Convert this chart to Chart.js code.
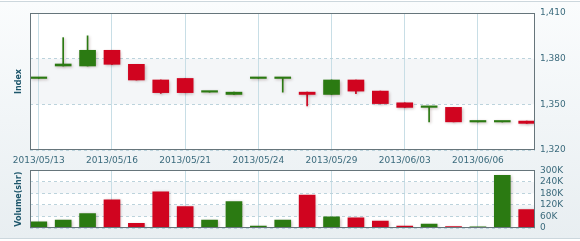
<!DOCTYPE html>
<html>
<head>
<meta charset="utf-8">
<script src="https://cdn.jsdelivr.net/npm/chart.js@4"></script>
<style>
html, body { margin: 0; padding: 0; }
body { width: 580px; height: 241px; overflow: hidden; background: #fff; position: relative; }
#panel { position: absolute; left: 0; top: 1px; width: 580px; height: 238px; box-sizing: border-box;
  border-top: 1px solid #ccd7dd; border-bottom: 1px solid #ccd7dd;
  background: linear-gradient(#fafcfd, #e8eef1); }
#priceChart { position: absolute; left: 0; top: 0; }
#volChart { position: absolute; left: 0; top: 160px; }
</style>
</head>
<body>
<div id="panel"></div>
<canvas id="priceChart" width="580" height="168"></canvas>
<canvas id="volChart" width="580" height="81"></canvas>
<script>
// trading days
const dates = ['2013/05/13', '2013/05/14', '2013/05/15', '2013/05/16', '2013/05/17', '2013/05/20', '2013/05/21',
    '2013/05/22', '2013/05/23', '2013/05/24', '2013/05/27', '2013/05/28', '2013/05/29', '2013/05/30',
    '2013/05/31', '2013/06/03', '2013/06/04', '2013/06/05', '2013/06/06', '2013/06/07', '2013/06/10'];

const open  = [1367, 1375.2, 1375.2, 1385.5, 1376.3, 1366, 1367, 1358, 1356.5, 1367, 1367, 1358, 1356.5, 1366, 1358.7, 1351, 1348, 1348, 1338.4, 1338.4, 1339];
const high  = [1367, 1393.8, 1395, 1385.5, 1376.3, 1366, 1367, 1358, 1358, 1367, 1367, 1358, 1366, 1366, 1358.7, 1351, 1348, 1348, 1338.4, 1338.4, 1339];
const low   = [1367, 1375.2, 1375.2, 1376.3, 1366, 1357.2, 1357.7, 1358, 1356.5, 1367, 1358, 1349, 1356.5, 1357, 1350.5, 1348, 1338.5, 1338.5, 1338.4, 1338.4, 1337.5];
const close = [1367, 1376.5, 1385.5, 1376.3, 1366, 1357.7, 1357.7, 1358, 1358, 1367, 1367, 1356.5, 1366, 1358.7, 1350.5, 1348, 1348, 1338.5, 1338.4, 1338.4, 1337.5];

const volume = [32000, 41000, 75000, 147000, 24000, 189000, 112000, 41000, 138000, 10000, 41000,
    172000, 58000, 53000, 36000, 10000, 20000, 7000, 6000, 274000, 96000];

const dateTicks = [0, 3, 6, 9, 12, 15, 18];
const priceTicks = [1320, 1350, 1380, 1410];
const volumeTicks = [0, 60000, 120000, 180000, 240000, 300000];

const GREEN = '#2b7a12';
const RED = '#d0041f';
const TEXT = '#3a6a7c';
const TITLE = '#1d566b';

const colors = open.map((o, i) => close[i] >= o ? GREEN : RED);

// white plot area with light bands, frame and soft shadows
function plotPlugin(bands) {
    return {
        id: 'plotArea',
        beforeDraw(chart) {
            const { ctx, chartArea: a, scales } = chart;
            ctx.save();
            ctx.fillStyle = '#ffffff';
            ctx.fillRect(a.left, a.top, a.right - a.left, a.bottom - a.top);
            ctx.fillStyle = '#f4f6f8';
            bands.forEach(b => {
                const y1 = scales.y.getPixelForValue(b[1]);
                const y2 = scales.y.getPixelForValue(b[0]);
                ctx.fillRect(a.left, y1, a.right - a.left, y2 - y1);
            });
            ctx.restore();
        },
        beforeDatasetsDraw(chart) {
            const ctx = chart.ctx;
            ctx.save();
            ctx.shadowColor = 'rgba(60,0,0,0.28)';
            ctx.shadowBlur = 3;
            ctx.shadowOffsetX = 1;
            ctx.shadowOffsetY = 1;
        },
        afterDatasetsDraw(chart) {
            chart.ctx.restore();
        },
        afterDraw(chart) {
            const { ctx, chartArea: a } = chart;
            ctx.save();
            ctx.strokeStyle = '#66757b';
            ctx.lineWidth = 1;
            ctx.strokeRect(Math.round(a.left) + 0.5, Math.round(a.top) + 0.5,
                Math.round(a.right - a.left) - 1, Math.round(a.bottom - a.top) - 1);
            ctx.restore();
        }
    };
}

function xScale(showLabels) {
    return {
        type: 'linear',
        min: -0.36,
        max: 20.34,
        offset: false,
        afterBuildTicks: s => { s.ticks = dateTicks.map(v => ({ value: v })); },
        afterFit: s => { s.height = showLabels ? 18 : 13; },
        grid: { color: '#c8dee6', drawTicks: false, offset: false },
        border: { display: false },
        ticks: {
            display: showLabels,
            autoSkip: false,
            maxRotation: 0,
            padding: 5,
            color: TEXT,
            font: { family: 'DejaVu Sans', size: 9 },
            callback: v => dates[v]
        }
    };
}

function leftTitle(text) {
    return {
        position: 'left',
        grid: { display: false, drawTicks: false },
        border: { display: false },
        ticks: { display: false },
        afterFit: s => { s.width = 30; },
        title: {
            display: true,
            text: text,
            color: TITLE,
            font: { family: 'DejaVu Sans', size: 8, weight: 'bold' },
            padding: { top: 14, bottom: 0 }
        }
    };
}

Chart.defaults.animation = false;

new Chart(document.getElementById('priceChart'), {
    type: 'bar',
    data: {
        datasets: [{
            label: 'wick',
            data: dates.map((d, i) => ({ x: i, y: [low[i], high[i]] })),
            backgroundColor: colors,
            barThickness: 1,
            grouped: false,
            order: 2
        }, {
            label: 'body',
            data: dates.map((d, i) => ({ x: i, y: [open[i], close[i]] })),
            backgroundColor: colors,
            barThickness: 16,
            minBarLength: 1.5,
            grouped: false,
            order: 1
        }]
    },
    options: {
        responsive: false,
        devicePixelRatio: 1,
        layout: { padding: { top: 13, left: 0, right: 0, bottom: 0 } },
        plugins: { legend: { display: false }, tooltip: { enabled: false } },
        scales: {
            x: xScale(true),
            y: {
                position: 'right',
                min: 1320,
                max: 1410,
                afterBuildTicks: s => { s.ticks = priceTicks.map(v => ({ value: v })); },
                afterFit: s => { s.width = 45; },
                grid: { color: '#bcd3dc', drawTicks: false },
                border: { display: false, dash: [3, 3] },
                ticks: {
                    autoSkip: false,
                    padding: 5,
                    color: TEXT,
                    font: { family: 'DejaVu Sans', size: 9 },
                    callback: v => v.toLocaleString('en-US')
                }
            },
            yL: Object.assign(leftTitle('Index'), { min: 1320, max: 1410 })
        }
    },
    plugins: [plotPlugin([[1350, 1380]])]
});

new Chart(document.getElementById('volChart'), {
    type: 'bar',
    data: {
        datasets: [{
            label: 'Volume',
            data: dates.map((d, i) => ({ x: i, y: volume[i] })),
            backgroundColor: colors,
            barThickness: 16
        }]
    },
    options: {
        responsive: false,
        devicePixelRatio: 1,
        layout: { padding: { top: 8, left: 0, right: 0, bottom: 0 } },
        plugins: { legend: { display: false }, tooltip: { enabled: false } },
        scales: {
            x: xScale(false),
            y: {
                position: 'right',
                min: 0,
                max: 300000,
                afterBuildTicks: s => { s.ticks = volumeTicks.map(v => ({ value: v })); },
                afterFit: s => { s.width = 45; },
                grid: { color: '#bcd3dc', drawTicks: false },
                border: { display: false, dash: [3, 3] },
                ticks: {
                    autoSkip: false,
                    padding: 5,
                    color: TEXT,
                    font: { family: 'DejaVu Sans', size: 9 },
                    callback: v => v === 0 ? '0' : (v / 1000) + 'K'
                }
            },
            yL: Object.assign(leftTitle('Volume(shr)'), { min: 0, max: 300000 })
        }
    },
    plugins: [plotPlugin([[60000, 120000], [180000, 240000]])]
});
</script>
</body>
</html>
